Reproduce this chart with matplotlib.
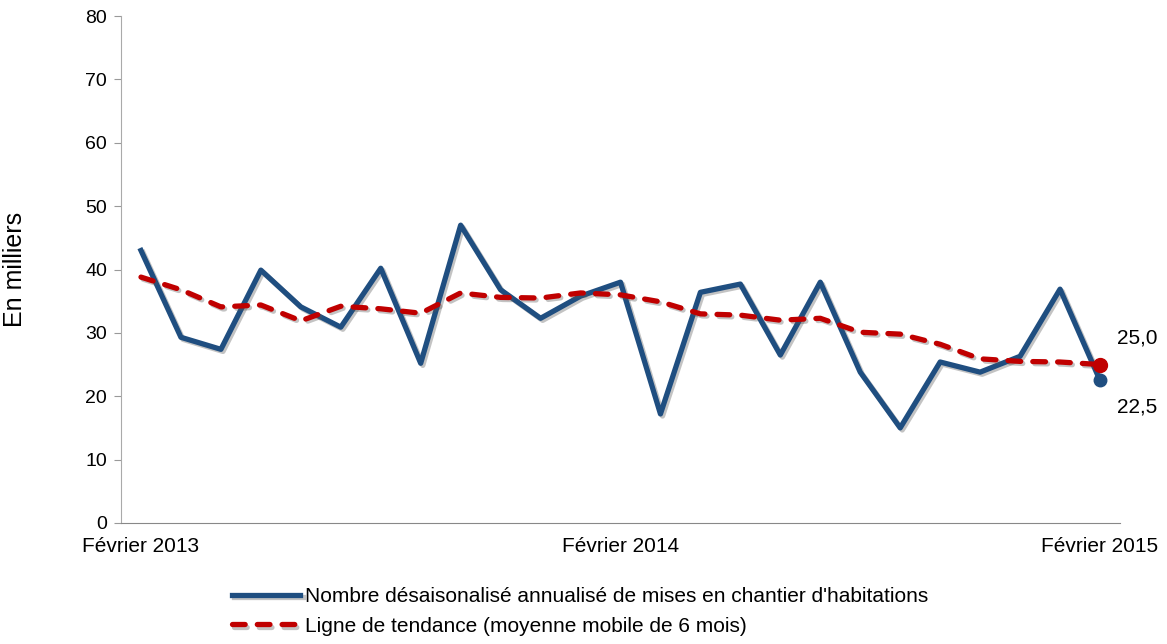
import matplotlib.pyplot as plt
import matplotlib.patheffects as pe
import numpy as np

plt.rcParams['font.family'] = ['Liberation Sans', 'DejaVu Sans']

# Données (en milliers), février 2013 à février 2015
mises_en_chantier = [43.0, 29.3, 27.4, 39.9, 34.1, 30.9, 40.2, 25.2, 47.0, 36.8,
                     32.3, 35.8, 38.0, 17.2, 36.4, 37.7, 26.5, 38.0, 23.8, 15.0,
                     25.4, 23.8, 26.3, 36.9, 22.5]
tendance = [38.8, 36.8, 34.1, 34.4, 31.9, 34.2, 33.8, 33.1, 36.3, 35.6,
            35.5, 36.3, 36.0, 34.9, 33.0, 32.8, 32.0, 32.3, 30.1, 29.8,
            28.2, 25.9, 25.5, 25.4, 25.0]
etiquettes_x = {0: 'Février 2013', 12: 'Février 2014', 24: 'Février 2015'}

bleu = '#1f4e80'
rouge = '#c00000'
x = np.arange(len(mises_en_chantier))

fig = plt.figure(figsize=(11.67, 6.44), dpi=100)
ax = fig.add_axes([0.1037, 0.188, 0.856, 0.787])

ombre = [pe.SimpleLineShadow(offset=(1.5, -1.5), alpha=0.35, shadow_color='#555555'), pe.Normal()]

ax.plot(x, mises_en_chantier, color=bleu, lw=3.8,
        label="Nombre désaisonalisé annualisé de mises en chantier d'habitations",
        path_effects=ombre, zorder=3)
ax.plot(x, tendance, color=rouge, lw=3.8, ls=(0, (2.4, 2.3)), dash_capstyle='round',
        label='Ligne de tendance (moyenne mobile de 6 mois)',
        path_effects=ombre, zorder=4)

ax.plot(x[-1], mises_en_chantier[-1], 'o', color=bleu, ms=9, zorder=5)
ax.plot(x[-1], tendance[-1], 'o', color=rouge, ms=10, zorder=6)
ax.annotate(f'{tendance[-1]:.1f}'.replace('.', ','), (x[-1], tendance[-1]),
            xytext=(12, 12), textcoords='offset points', fontsize=15, va='bottom')
ax.annotate(f'{mises_en_chantier[-1]:.1f}'.replace('.', ','), (x[-1], mises_en_chantier[-1]),
            xytext=(12, -12), textcoords='offset points', fontsize=15, va='top')

ax.set_xlim(-0.5, len(x) - 0.5)
ax.set_ylim(0, 80)
ax.set_yticks(range(0, 81, 10))
ax.set_xticks(list(etiquettes_x.keys()))
ax.set_xticklabels(list(etiquettes_x.values()))
ax.tick_params(axis='x', length=0, labelsize=15, pad=10)
ax.tick_params(axis='y', length=5, color='#999999', labelsize=14, pad=5)
ax.set_ylabel('En milliers', fontsize=18, labelpad=42)

for s in ['top', 'right']:
    ax.spines[s].set_visible(False)
ax.spines['left'].set_color('#aaaaaa')
ax.spines['bottom'].set_color('#888888')

ax.legend(loc='upper left', bbox_to_anchor=(0.092, -0.09), frameon=False,
          fontsize=15, handlelength=3.3, handletextpad=0.2, labelspacing=0.5)

fig.savefig('out.png', dpi=100)
